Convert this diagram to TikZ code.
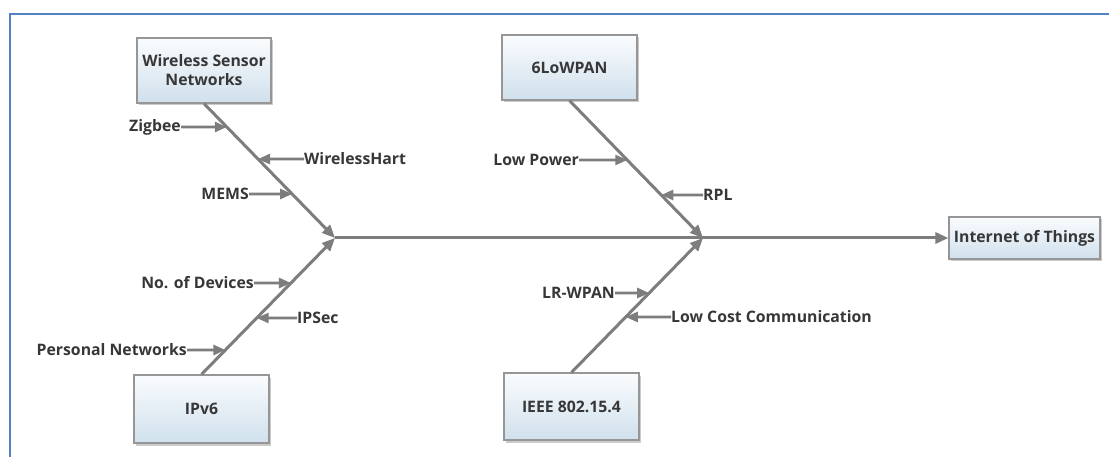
\documentclass[tikz,border=0pt]{standalone}
\usepackage{fontspec}
\setmainfont{Open Sans}
\usetikzlibrary{arrows.meta,shadows,calc}
\definecolor{boxtop}{RGB}{250,252,254}
\definecolor{boxbot}{RGB}{208,224,236}
\definecolor{boxborder}{RGB}{150,150,150}
\definecolor{bonec}{RGB}{125,125,125}
\definecolor{txt}{RGB}{55,55,55}
\definecolor{framec}{RGB}{84,130,196}
\begin{document}
\begin{tikzpicture}[x=1pt,y=-1pt,
  box/.style={draw=boxborder, line width=1.2pt, top color=boxtop, bottom color=boxbot,
    drop shadow={shadow xshift=2pt, shadow yshift=-2.5pt, fill=black!40, opacity=.5},
    font=\fontsize{15.8}{19}\selectfont\bfseries, text=txt, align=center, inner sep=0pt},
  lbl/.style={font=\fontsize{15.8}{19}\selectfont\bfseries, text=txt, inner sep=0pt},
  bone/.style={draw=bonec, line width=3pt, -{Triangle[length=13pt,width=11pt]}},
  twig/.style={draw=bonec, line width=2.6pt, -{Triangle[length=12pt,width=10pt]}},
  frame/.style={draw=framec, line width=2pt}]
\useasboundingbox (0,0) rectangle (1109,457);
\fill[white] (0,0) rectangle (1109,457);
\draw[frame] (1109,14.5) -- (9.5,14.5) -- (9.5,457);

% boxes
\node[box, minimum width=134pt, minimum height=65pt] (wsn) at (204,70.5) {Wireless Sensor\\Networks};
\node[box, minimum width=135pt, minimum height=68pt] (ipv6) at (201.5,409) {IPv6};
\node[box, minimum width=135pt, minimum height=65pt] (lowpan) at (569.5,67.5) {6LoWPAN};
\node[box, minimum width=135pt, minimum height=67pt] (ieee) at (571.5,406.5) {IEEE 802.15.4};
\node[box, minimum width=151pt, minimum height=42pt] (iot) at (1024.5,238) {Internet of Things};

\coordinate (j1) at (335,238);
\coordinate (j2) at (703,238);

% spine
\draw[bone] (j1) -- (iot.west);
% main bones
\draw[bone] (wsn.south) -- (j1);
\draw[bone] (ipv6.north) -- (j1);
\draw[bone] (lowpan.south) -- (j2);
\draw[bone] (ieee.north) -- (j2);

% labels
\node[lbl, anchor=east] (zig) at (181,127) {Zigbee};
\node[lbl, anchor=west] (whart) at (304,159) {WirelessHart};
\node[lbl, anchor=east] (mems) at (249,194) {MEMS};
\node[lbl, anchor=east] (nod) at (254,283) {No. of Devices};
\node[lbl, anchor=west] (ipsec) at (297,318) {IPSec};
\node[lbl, anchor=east] (pn) at (187,350) {Personal Networks};
\node[lbl, anchor=east] (lp) at (579,160) {Low Power};
\node[lbl, anchor=west] (rpl) at (703,195) {RPL};
\node[lbl, anchor=east] (lr) at (615,293) {LR-WPAN};
\node[lbl, anchor=west] (lcc) at (671,317) {Low Cost Communication};

% intersection points
\coordinate (zigE) at (intersection cs: first line={(wsn.south)--(j1)}, second line={(zig.east)--($(zig.east)+(1,0)$)});
\coordinate (whartE) at (intersection cs: first line={(wsn.south)--(j1)}, second line={(whart.west)--($(whart.west)+(1,0)$)});
\coordinate (memsE) at (intersection cs: first line={(wsn.south)--(j1)}, second line={(mems.east)--($(mems.east)+(1,0)$)});
\coordinate (nodE) at (intersection cs: first line={(ipv6.north)--(j1)}, second line={(nod.east)--($(nod.east)+(1,0)$)});
\coordinate (ipsecE) at (intersection cs: first line={(ipv6.north)--(j1)}, second line={(ipsec.west)--($(ipsec.west)+(1,0)$)});
\coordinate (pnE) at (intersection cs: first line={(ipv6.north)--(j1)}, second line={(pn.east)--($(pn.east)+(1,0)$)});
\coordinate (lpE) at (intersection cs: first line={(lowpan.south)--(j2)}, second line={(lp.east)--($(lp.east)+(1,0)$)});
\coordinate (rplE) at (intersection cs: first line={(lowpan.south)--(j2)}, second line={(rpl.west)--($(rpl.west)+(1,0)$)});
\coordinate (lrE) at (intersection cs: first line={(ieee.north)--(j2)}, second line={(lr.east)--($(lr.east)+(1,0)$)});
\coordinate (lccE) at (intersection cs: first line={(ieee.north)--(j2)}, second line={(lcc.west)--($(lcc.west)+(1,0)$)});

\draw[twig] (zig.east) -- (zigE);
\draw[twig] (whart.west) -- (whartE);
\draw[twig] (mems.east) -- (memsE);
\draw[twig] (nod.east) -- (nodE);
\draw[twig] (ipsec.west) -- (ipsecE);
\draw[twig] (pn.east) -- (pnE);
\draw[twig] (lp.east) -- (lpE);
\draw[twig] (rpl.west) -- (rplE);
\draw[twig] (lr.east) -- (lrE);
\draw[twig] (lcc.west) -- (lccE);
\end{tikzpicture}
\end{document}
